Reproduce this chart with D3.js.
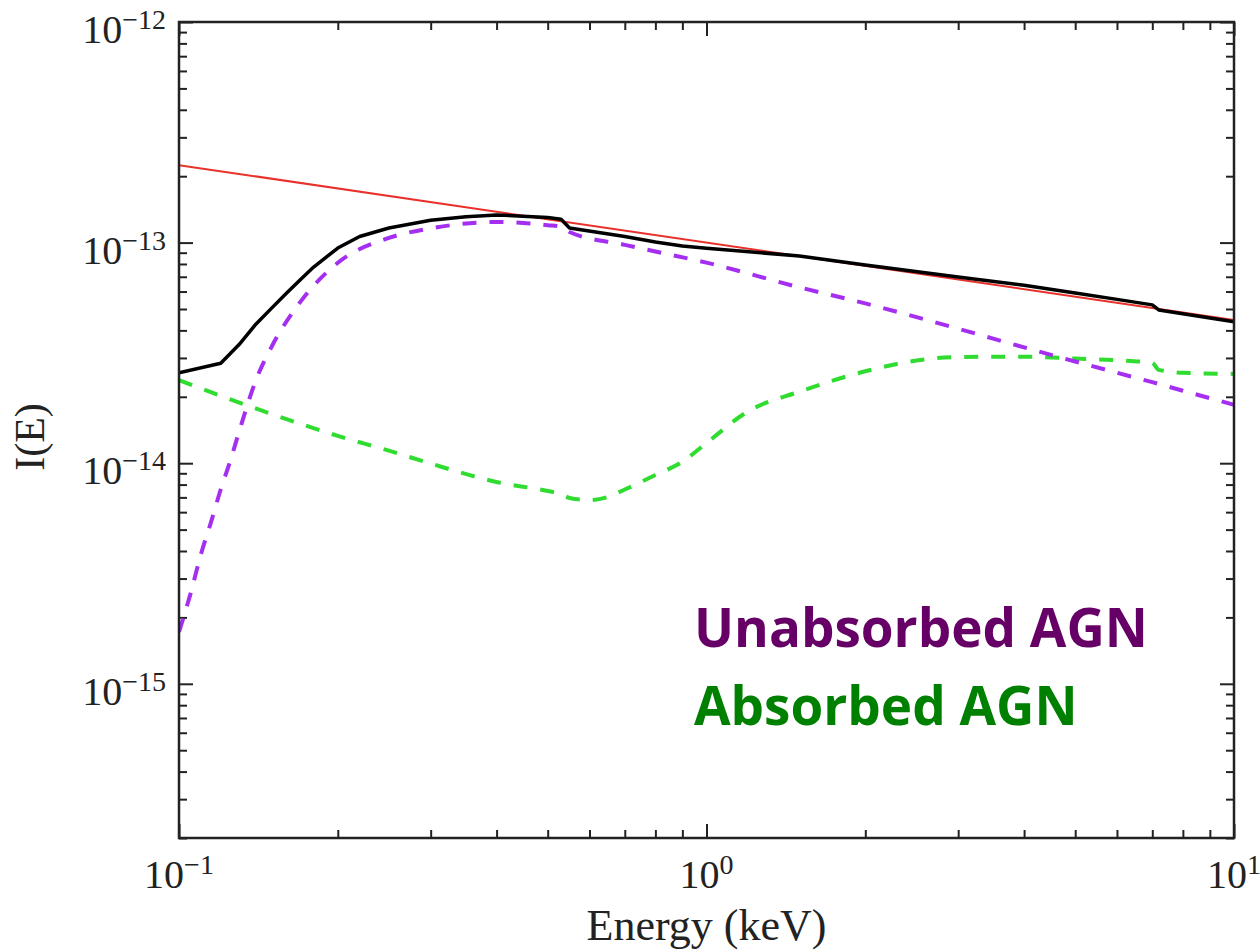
<!DOCTYPE html>
<html>
<head>
<meta charset="utf-8">
<script src="https://cdn.jsdelivr.net/npm/d3@7"></script>
<style>
  html, body { margin: 0; padding: 0; background: #fff; }
  svg { display: block; }
</style>
</head>
<body>
<svg id="chart" width="1260" height="952"></svg>
<script>
// Energy grid (keV) and intensities for each spectral component
const totalEnergy = [0.1, 0.12, 0.13, 0.14, 0.15, 0.16, 0.17, 0.18, 0.2, 0.22, 0.25, 0.3, 0.35, 0.4, 0.5, 0.53, 0.55, 0.7, 0.8, 0.9, 1, 1.5, 2, 3, 4, 5, 6, 7, 7.2, 10];
const totalFlux = [2.57e-14, 2.84e-14, 3.45e-14, 4.28e-14, 5.06e-14, 5.91e-14, 6.81e-14, 7.75e-14, 9.45e-14, 1.066e-13, 1.165e-13, 1.262e-13, 1.31e-13, 1.335e-13, 1.30e-13, 1.275e-13, 1.165e-13, 1.066e-13, 1.006e-13, 9.65e-14, 9.42e-14, 8.70e-14, 7.92e-14, 6.98e-14, 6.41e-14, 5.91e-14, 5.53e-14, 5.22e-14, 4.95e-14, 4.38e-14];

const unabsEnergy = [0.1, 0.105, 0.11, 0.115, 0.12, 0.125, 0.13, 0.14, 0.15, 0.17, 0.2, 0.25, 0.3, 0.4, 0.5, 0.53, 0.55, 0.7, 0.8, 1, 1.5, 2, 3, 4, 5, 6, 7, 8, 10];
const unabsFlux = [1.72e-15, 2.53e-15, 3.85e-15, 5.41e-15, 7.62e-15, 1.02e-14, 1.39e-14, 2.39e-14, 3.39e-14, 5.40e-14, 8.10e-14, 1.05e-13, 1.16e-13, 1.24e-13, 1.20e-13, 1.183e-13, 1.117e-13, 9.77e-14, 9.11e-14, 8.11e-14, 6.27e-14, 5.30e-14, 4.07e-14, 3.35e-14, 2.89e-14, 2.57e-14, 2.33e-14, 2.13e-14, 1.84e-14];

const absEnergy = [0.1, 0.12, 0.15, 0.2, 0.25, 0.3, 0.4, 0.5, 0.53, 0.55, 0.6, 0.65, 0.7, 0.8, 0.9, 1, 1.2, 1.5, 2, 2.5, 3, 4, 5, 6, 7, 7.2, 8, 10];
const absFlux = [2.38e-14, 2.02e-14, 1.67e-14, 1.33e-14, 1.14e-14, 9.96e-15, 8.22e-15, 7.48e-15, 7.25e-15, 6.96e-15, 6.81e-15, 7.03e-15, 7.60e-15, 8.84e-15, 1.015e-14, 1.235e-14, 1.72e-14, 2.11e-14, 2.61e-14, 2.92e-14, 3.03e-14, 3.04e-14, 2.98e-14, 2.93e-14, 2.85e-14, 2.65e-14, 2.57e-14, 2.54e-14];

// Reference power law (straight line in log-log)
const powerLawEnergy = [0.1, 10];
const powerLawFlux = [2.245e-13, 4.46e-14];

// Axis ticks
const xMajorTicks = [0.1, 1, 10];
const xMajorExp = ["−1", "0", "1"];
const yMajorTicks = [1e-12, 1e-13, 1e-14, 1e-15];
const yMajorExp = ["−12", "−13", "−14", "−15"];

const xDomain = [0.1, 10];
const yDomain = [2e-16, 1e-12];

const labels = [
  { text: "Unabsorbed AGN", color: "#660066" },
  { text: "Absorbed AGN", color: "#008000" }
];

const svg = d3.select("#chart");
const plot = { left: 179, right: 1234, top: 22, bottom: 838 };

const x = d3.scaleLog().domain(xDomain).range([plot.left, plot.right]);
const y = d3.scaleLog().domain(yDomain).range([plot.bottom, plot.top]);

// Minor tick values: 2..9 times each decade, inside the domain
function minorTicks(domain) {
  const out = [];
  const lo = Math.floor(Math.log10(domain[0]));
  const hi = Math.ceil(Math.log10(domain[1]));
  for (let e = lo; e < hi; e++) {
    for (let k = 2; k <= 9; k++) {
      const v = k * Math.pow(10, e);
      if (v >= domain[0] * 0.999 && v <= domain[1] * 1.001) out.push(v);
    }
  }
  return out;
}
const xMinor = minorTicks(xDomain);
const yMinor = minorTicks(yDomain);

svg.append("defs").append("clipPath").attr("id", "plotClip")
  .append("rect")
  .attr("x", plot.left).attr("y", plot.top)
  .attr("width", plot.right - plot.left).attr("height", plot.bottom - plot.top);

// Inward ticks on all four sides
function drawTicks(axisGen, transform, values, size) {
  const g = svg.append("g").attr("transform", transform)
    .call(axisGen.tickValues(values).tickSize(-size).tickFormat(""));
  g.select(".domain").remove();
  g.selectAll(".tick line").attr("stroke", "#222").attr("stroke-width", 2);
}
drawTicks(d3.axisBottom(x), `translate(0,${plot.bottom})`, xMajorTicks, 14);
drawTicks(d3.axisBottom(x), `translate(0,${plot.bottom})`, xMinor, 8);
drawTicks(d3.axisTop(x), `translate(0,${plot.top})`, xMajorTicks, 14);
drawTicks(d3.axisTop(x), `translate(0,${plot.top})`, xMinor, 8);
drawTicks(d3.axisLeft(y), `translate(${plot.left},0)`, yMajorTicks, 14);
drawTicks(d3.axisLeft(y), `translate(${plot.left},0)`, yMinor, 8);
drawTicks(d3.axisRight(y), `translate(${plot.right},0)`, yMajorTicks, 14);
drawTicks(d3.axisRight(y), `translate(${plot.right},0)`, yMinor, 8);

// Curves
const lines = svg.append("g").attr("clip-path", "url(#plotClip)");
function series(energy, flux) {
  return energy.map((e, i) => ({ e, f: flux[i] }));
}
const lineLinear = d3.line().x(d => x(d.e)).y(d => y(d.f));
const lineSmooth = d3.line().x(d => x(d.e)).y(d => y(d.f)).curve(d3.curveMonotoneX);

lines.append("path").datum(series(powerLawEnergy, powerLawFlux))
  .attr("d", lineLinear).attr("fill", "none")
  .attr("stroke", "#e8312b").attr("stroke-width", 2);

lines.append("path").datum(series(absEnergy, absFlux))
  .attr("d", lineSmooth).attr("fill", "none")
  .attr("stroke", "#2fdc2f").attr("stroke-width", 4)
  .attr("stroke-dasharray", "14,13");

lines.append("path").datum(series(unabsEnergy, unabsFlux))
  .attr("d", lineSmooth).attr("fill", "none")
  .attr("stroke", "#a52ff0").attr("stroke-width", 4)
  .attr("stroke-dasharray", "14,13");

lines.append("path").datum(series(totalEnergy, totalFlux))
  .attr("d", lineLinear).attr("fill", "none")
  .attr("stroke", "#000").attr("stroke-width", 3.5)
  .attr("stroke-linejoin", "round");

// Frame
svg.append("rect")
  .attr("x", plot.left).attr("y", plot.top)
  .attr("width", plot.right - plot.left).attr("height", plot.bottom - plot.top)
  .attr("fill", "none").attr("stroke", "#222").attr("stroke-width", 2.5);

// Tick labels of the form 10^n
const serif = "'Liberation Serif', 'Times New Roman', serif";
function powerLabel(g, exp) {
  g.append("tspan").text("10");
  g.append("tspan").attr("font-size", 28).attr("dy", -14).text(exp);
}
xMajorTicks.forEach((v, i) => {
  const t = svg.append("text")
    .attr("x", x(v)).attr("y", 888)
    .attr("text-anchor", "middle")
    .attr("font-family", serif).attr("font-size", 40).attr("fill", "#222");
  powerLabel(t, xMajorExp[i]);
});
yMajorTicks.forEach((v, i) => {
  const t = svg.append("text")
    .attr("x", 166).attr("y", y(v) + 21)
    .attr("text-anchor", "end")
    .attr("font-family", serif).attr("font-size", 40).attr("fill", "#222");
  powerLabel(t, yMajorExp[i]);
});

// Axis titles
svg.append("text")
  .attr("x", (plot.left + plot.right) / 2).attr("y", 940)
  .attr("text-anchor", "middle")
  .attr("font-family", serif).attr("font-size", 44).attr("fill", "#222")
  .text("Energy (keV)");
svg.append("text")
  .attr("transform", `translate(44,${(plot.top + plot.bottom) / 2 + 7}) rotate(-90)`)
  .attr("text-anchor", "middle")
  .attr("font-family", serif).attr("font-size", 42).attr("fill", "#222")
  .text("I(E)");

// Component labels
const labelBaselines = [647, 725];
labels.forEach((d, i) => {
  svg.append("text")
    .attr("x", 694).attr("y", labelBaselines[i])
    .attr("font-family", "'Open Sans', Lato, sans-serif")
    .attr("font-weight", 700).attr("font-size", 53)
    .attr("fill", d.color)
    .text(d.text);
});
</script>
</body>
</html>
